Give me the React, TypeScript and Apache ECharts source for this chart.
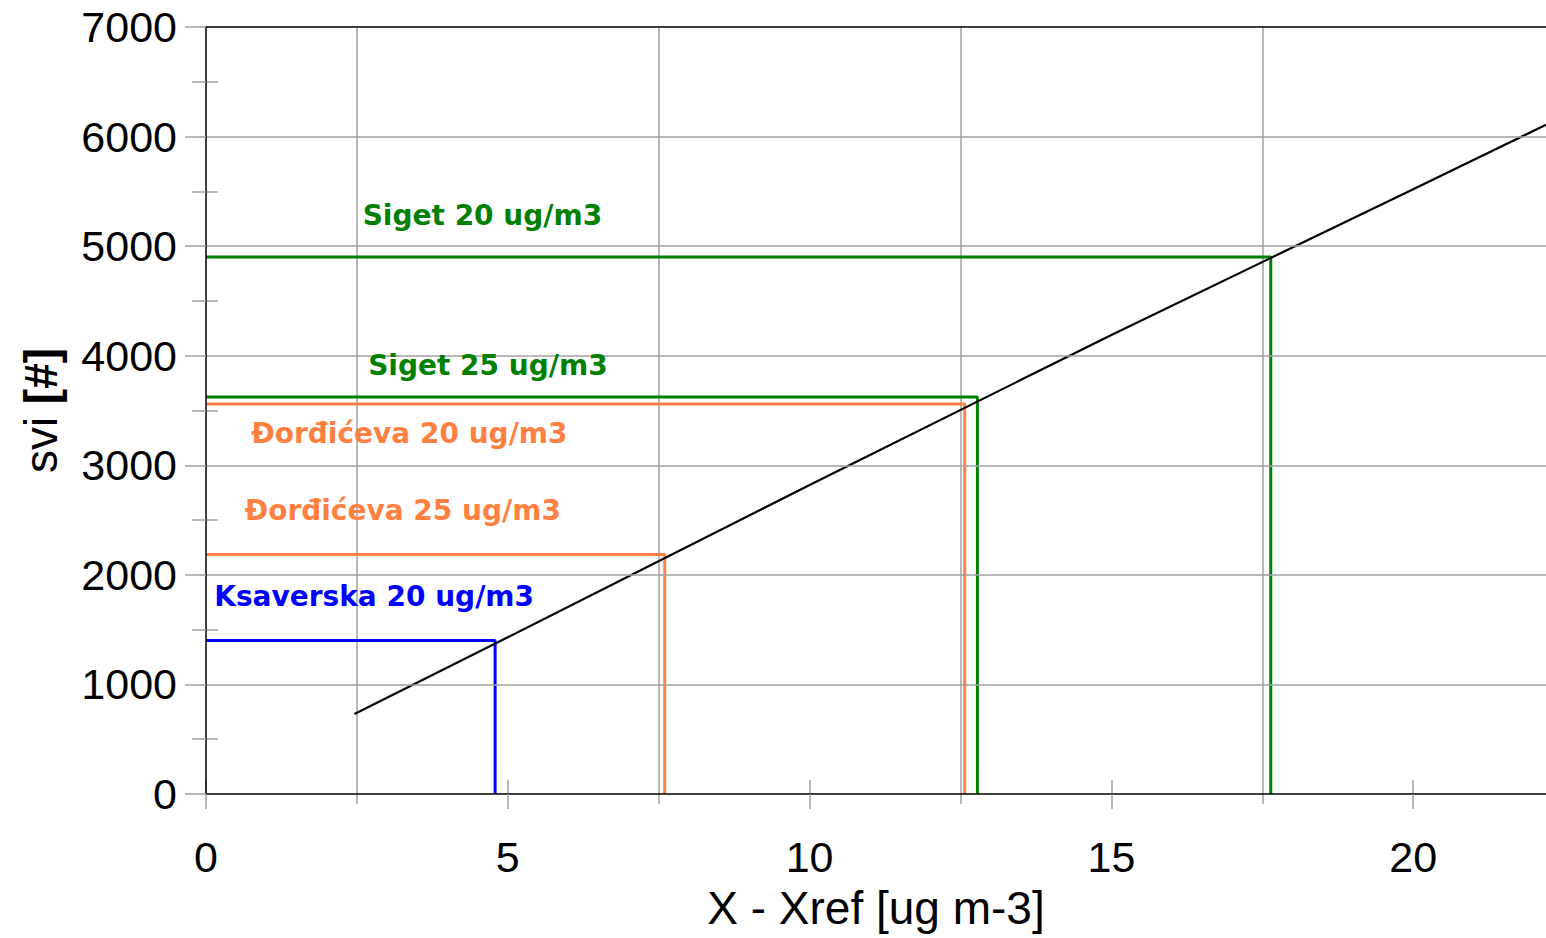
import React, { useEffect, useRef } from "react";
import * as echarts from "echarts";

// ---- data ----
const xTickValues = [0, 5, 10, 15, 20];
const xGridValues = [2.5, 7.5, 12.5, 17.5];
const X_MAX = 22.2;
const Y_MAX = 7000;
const Y_STEP = 1000;

const curveX = [2.46, 5, 10, 15, 20, 22.2];
const curveY = [730, 1430, 2820, 4190, 5520, 6108];

const stationNames = [
  "Ksaverska 20 ug/m3",
  "Đorđićeva 25 ug/m3",
  "Đorđićeva 20 ug/m3",
  "Siget 25 ug/m3",
  "Siget 20 ug/m3",
];
const stationX = [4.79, 7.6, 12.57, 12.78, 17.64];
const stationY = [1400, 2186, 3559, 3623, 4900];
const labelX = [2.785, 3.26, 3.37, 4.67, 4.58];
const labelY = [1801, 2585, 3288, 3909, 5278];

const stationColors = ["#0000ff", "#ff8040", "#ff8040", "#008000", "#008000"];

const GRAY = "#a0a0a0";
const FONT = "'Liberation Sans', Arial, sans-serif";
const LABEL_FONT = "'DejaVu Sans', sans-serif";

export default function App() {
  const ref = useRef<HTMLDivElement>(null);

  useEffect(() => {
    const chart = echarts.init(ref.current!, null, { renderer: "svg" });
    const box = { left: 206, top: 27, right: 0, bottom: 144 };

    const stationSeries = stationNames.map((name, i) => ({
      type: "line",
      name,
      xAxisIndex: 0,
      yAxisIndex: 0,
      data: [
        [0, stationY[i]],
        [stationX[i], stationY[i]],
        [stationX[i], 0],
      ],
      symbol: "none",
      lineStyle: { color: stationColors[i], width: 3 },
      z: 3,
      silent: true,
    }));

    chart.setOption({
      animation: false,
      backgroundColor: "#ffffff",
      grid: [
        { ...box },
        { ...box },
        { ...box },
      ],
      xAxis: [
        {
          type: "value",
          gridIndex: 0,
          position: "bottom",
          min: 0,
          max: X_MAX,
          axisLine: { show: true, lineStyle: { color: "#000", width: 1.5 } },
          axisTick: {
            show: true,
            customValues: xTickValues,
            length: 15,
            lineStyle: { color: GRAY, width: 1.5 },
          },
          axisLabel: {
            show: true,
            customValues: xTickValues,
            fontSize: 43,
            fontFamily: FONT,
            color: "#000",
            margin: 41,
          },
          splitLine: { show: false },
          name: "X - Xref [ug m-3]",
          nameLocation: "middle",
          nameGap: 91,
          nameTextStyle: { fontSize: 46, fontFamily: FONT, color: "#000" },
          z: 5,
        },
        {
          type: "value",
          gridIndex: 0,
          position: "top",
          min: 0,
          max: X_MAX,
          axisLine: { show: true, lineStyle: { color: "#000", width: 1.5 } },
          axisTick: { show: false },
          axisLabel: { show: false },
          splitLine: { show: false },
          z: 5,
        },
        {
          type: "value",
          gridIndex: 1,
          position: "bottom",
          min: 0,
          max: X_MAX,
          axisLine: { show: false },
          axisTick: {
            show: true,
            inside: true,
            customValues: xTickValues,
            length: 14,
            lineStyle: { color: GRAY, width: 1.5 },
          },
          axisLabel: { show: false },
          splitLine: { show: false },
        },
        {
          type: "value",
          gridIndex: 2,
          position: "bottom",
          min: 0,
          max: X_MAX,
          axisLine: { show: false },
          axisTick: {
            show: true,
            customValues: xGridValues,
            length: 10,
            lineStyle: { color: GRAY, width: 1.5 },
          },
          axisLabel: { show: false },
          splitLine: { show: true, lineStyle: { color: GRAY, width: 1.5 } },
        },
      ],
      yAxis: [
        {
          type: "value",
          gridIndex: 0,
          min: 0,
          max: Y_MAX,
          interval: Y_STEP,
          axisLine: { show: true, lineStyle: { color: "#000", width: 1.5 } },
          axisTick: { show: true, length: 21, lineStyle: { color: GRAY, width: 1.5 } },
          minorTick: {
            show: true,
            splitNumber: 2,
            length: 14,
            lineStyle: { color: GRAY, width: 1.5 },
          },
          axisLabel: {
            fontSize: 43,
            fontFamily: FONT,
            color: "#000",
            margin: 29,
            formatter: (v: number) => String(v),
          },
          splitLine: {
            show: true,
            showMinLine: false,
            showMaxLine: false,
            lineStyle: { color: GRAY, width: 1.5 },
          },
          name: "svi {b|[#]}",
          nameLocation: "middle",
          nameGap: 142,
          nameTextStyle: {
            fontSize: 46,
            fontFamily: FONT,
            color: "#000",
            rich: {
              b: { fontSize: 46, fontFamily: FONT, fontWeight: "bold", color: "#000" },
            },
          },
          z: 5,
        },
        {
          type: "value",
          gridIndex: 1,
          min: 0,
          max: Y_MAX,
          interval: Y_STEP,
          axisLine: { show: false },
          axisTick: { show: false, inside: true },
          minorTick: {
            show: true,
            splitNumber: 2,
            length: 12,
            lineStyle: { color: GRAY, width: 1.5 },
          },
          axisLabel: { show: false },
          splitLine: { show: false },
        },
        {
          type: "value",
          gridIndex: 2,
          min: 0,
          max: Y_MAX,
          interval: Y_STEP,
          show: false,
        },
      ],
      series: [
        ...stationSeries,
        {
          type: "line",
          name: "curve",
          xAxisIndex: 0,
          yAxisIndex: 0,
          data: curveX.map((x, i) => [x, curveY[i]]),
          symbol: "none",
          lineStyle: { color: "#000", width: 2.2 },
          z: 4,
          silent: true,
        },
        {
          type: "scatter",
          name: "labels",
          xAxisIndex: 0,
          yAxisIndex: 0,
          symbolSize: 1,
          itemStyle: { color: "transparent", opacity: 1 },
          silent: true,
          z: 6,
          data: stationNames.map((n, i) => ({
            name: n,
            value: [labelX[i], labelY[i]],
            label: { color: stationColors[i], opacity: 1 },
          })),
          label: {
            show: true,
            position: "inside",
            formatter: "{b}",
            fontFamily: LABEL_FONT,
            fontWeight: "bold",
            fontSize: 28,
            opacity: 1,
          },
        },
      ],
    });

    return () => chart.dispose();
  }, []);

  return (
    <div
      ref={ref}
      style={{ position: "fixed", left: 0, top: 0, width: 1546, height: 938 }}
    />
  );
}
